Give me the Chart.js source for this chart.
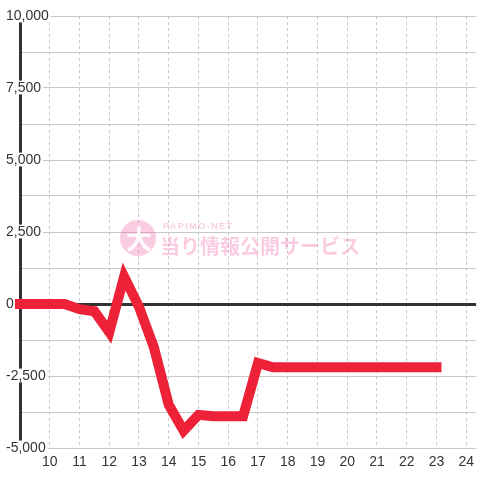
<!DOCTYPE html>
<html>
<head>
<meta charset="utf-8">
<script src="https://cdn.jsdelivr.net/npm/chart.js@4"></script>
<style>
  html, body { margin: 0; padding: 0; background: #fff; }
  #wrap { width: 480px; height: 480px; }
</style>
</head>
<body>
<div id="wrap"><canvas id="myChart" width="480" height="480"></canvas></div>
<script>
// hours of the day (x) and balance (y)
var hours   = [9, 9.5, 10, 10.5, 11, 11.5, 12, 12.5, 13, 13.5, 14, 14.5, 15, 15.5, 16, 16.5, 17, 17.5, 18, 18.5, 19, 19.5, 20, 20.5, 21, 21.5, 22, 22.5, 23];
var balance = [0, 0, 0, 0, -180, -250, -980, 950, -100, -1500, -3500, -4400, -3850, -3900, -3900, -3900, -2050, -2200, -2200, -2200, -2200, -2200, -2200, -2200, -2200, -2200, -2200, -2200, -2200];
var yLabelTicks = [-5000, -2500, 0, 2500, 5000, 7500, 10000];
var xLabelTicks = [10, 11, 12, 13, 14, 15, 16, 17, 18, 19, 20, 21, 22, 23, 24];

Chart.defaults.font.family = "'Liberation Sans', Arial, sans-serif";
Chart.defaults.font.size = 14;
Chart.defaults.color = '#333';

// pink logo behind the line
var watermark = {
    id: 'watermark',
    beforeDatasetsDraw: function(chart) {
        var c = chart.ctx;
        c.save();
        c.fillStyle = 'rgba(242,110,170,0.35)';
        c.beginPath();
        c.arc(138, 238, 18, 0, Math.PI * 2);
        c.fill();
        c.fillStyle = 'rgba(255,255,255,0.9)';
        c.font = "bold 26px 'Noto Sans CJK JP'";
        c.textAlign = 'center';
        c.textBaseline = 'middle';
        c.fillText('大', 139, 239);
        c.fillStyle = 'rgba(242,110,170,0.35)';
        c.textAlign = 'left';
        c.font = "bold 20px 'Noto Sans CJK JP'";
        c.fillText('当り情報公開サービス', 160, 246);
        c.font = "bold 9px 'Liberation Sans'";
        c.letterSpacing = '1.5px';
        c.fillText('PAPIMO-NET', 163, 227);
        c.restore();
    }
};

var points = hours.map(function(h, i) { return {x: h, y: balance[i]}; });

var ctx = document.getElementById('myChart').getContext('2d');
var chart = new Chart(ctx, {
    type: 'line',
    data: {
        datasets: [{
            data: points,
            borderColor: '#ed2238',
            borderWidth: 10,
            borderCapStyle: 'square',
            borderJoinStyle: 'miter',
            pointRadius: 0,
            tension: 0,
            fill: false,
            clip: false
        }]
    },
    options: {
        responsive: false,
        animation: false,
        layout: { padding: { top: 16, right: 0, left: 0, bottom: 0 } },
        plugins: { legend: { display: false }, tooltip: { enabled: false } },
        scales: {
            x: {
                type: 'linear',
                min: 9,
                max: 24.3333,
                afterFit: function(s) { s.height = 32; },
                border: { display: false, dash: [3, 3] },
                grid: { color: '#c8c8c8', lineWidth: 1, drawTicks: false },
                ticks: {
                    stepSize: 1,
                    includeBounds: false,
                    padding: 6,
                    maxRotation: 0,
                    autoSkip: false,
                    callback: function(v) { return xLabelTicks.indexOf(v) >= 0 ? String(v) : ''; }
                }
            },
            y: {
                min: -5000,
                max: 10000,
                afterFit: function(s) { s.width = 20; },
                border: { display: true, color: '#333', width: 3 },
                grid: {
                    drawTicks: false,
                    color: function(c) { return c.tick && c.tick.value === 0 ? '#333' : '#c8c8c8'; },
                    lineWidth: function(c) { return c.tick && c.tick.value === 0 ? 3 : 1; }
                },
                ticks: {
                    stepSize: 1250,
                    mirror: true,
                    padding: -14,
                    showLabelBackdrop: function(c) { return yLabelTicks.indexOf(c.tick.value) >= 0; },
                    backdropColor: '#fff',
                    backdropPadding: { top: -1, bottom: -2, left: 2, right: 2 },
                    callback: function(v) { return yLabelTicks.indexOf(v) >= 0 ? v.toLocaleString('en-US') : ''; }
                }
            }
        }
    },
    plugins: [watermark]
});
</script>
</body>
</html>
